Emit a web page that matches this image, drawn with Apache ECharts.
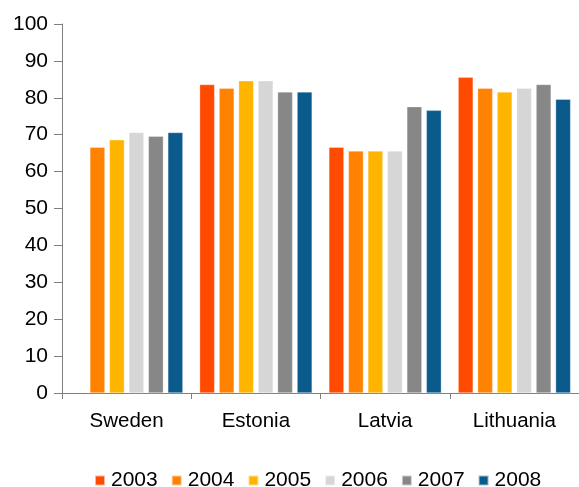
<!DOCTYPE html>
<html>
<head>
<meta charset="utf-8">
<script src="https://cdn.jsdelivr.net/npm/echarts@6/dist/echarts.min.js"></script>
<style>
  html, body { margin: 0; padding: 0; background: #fff; }
  #chart { width: 579px; height: 487px; }
</style>
</head>
<body>
<div id="chart"></div>
<script>
// values
const countries = ['Sweden', 'Estonia', 'Latvia', 'Lithuania'];
const years = ['2003', '2004', '2005', '2006', '2007', '2008'];
const v2003 = [null, 83.6, 66.6, 85.6];
const v2004 = [66.6, 82.6, 65.6, 82.6];
const v2005 = [68.6, 84.6, 65.6, 81.6];
const v2006 = [70.6, 84.6, 65.6, 82.6];
const v2007 = [69.6, 81.6, 77.6, 83.6];
const v2008 = [70.6, 81.6, 76.6, 79.6];
const colors = ['#ff4a00', '#ff8200', '#ffb400', '#d6d6d6', '#878787', '#0b5a8c'];

const values = [v2003, v2004, v2005, v2006, v2007, v2008];
const font = 'Liberation Sans, Arial, sans-serif';

const chart = echarts.init(document.getElementById('chart'));

const series = years.map((y, i) => ({
  name: y,
  type: 'bar',
  data: values[i],
  barGap: '30%',
  barCategoryGap: '13%',
  itemStyle: { color: colors[i], borderColor: 'rgba(255,255,255,0.6)', borderWidth: 0.5 }
}));

chart.setOption({
  animation: false,
  color: colors,
  grid: { left: 62, right: 0, top: 24, bottom: 94, containLabel: false },
  legend: {
    data: years,
    left: 89,
    top: 465,
    itemWidth: 10,
    itemHeight: 10,
    itemGap: 13,
    icon: 'rect',
    textStyle: { fontFamily: font, fontSize: 21, color: '#000', padding: [0, 0, 0, 1] }
  },
  xAxis: {
    type: 'category',
    data: countries,
    axisLine: { lineStyle: { color: '#808080', width: 1 } },
    axisTick: { show: true, length: 6, lineStyle: { color: '#808080' } },
    axisLabel: { fontFamily: font, fontSize: 20.5, color: '#000', margin: 18 }
  },
  yAxis: {
    type: 'value',
    min: 0,
    max: 100,
    interval: 10,
    axisLine: { show: true, lineStyle: { color: '#808080', width: 1 } },
    axisTick: { show: true, length: 8, lineStyle: { color: '#808080' } },
    splitLine: { show: false },
    axisLabel: { fontFamily: font, fontSize: 21, color: '#000', margin: 14 }
  },
  series: series
});
</script>
</body>
</html>
